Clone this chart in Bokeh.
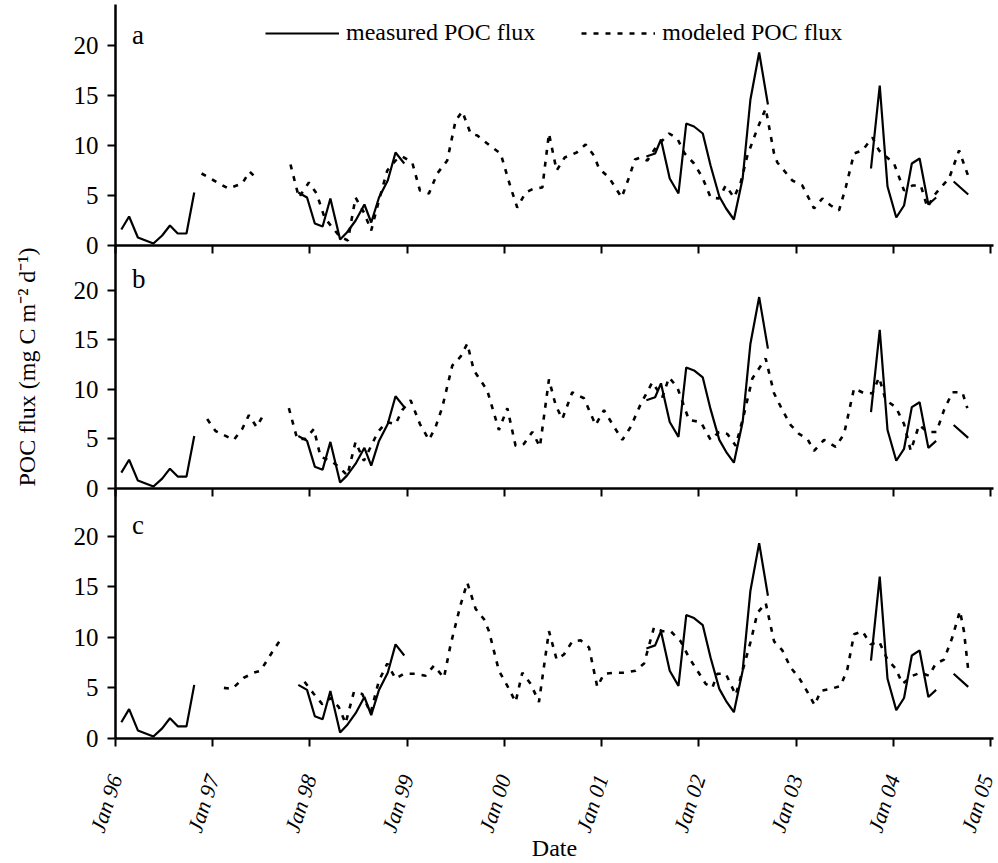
from bokeh.plotting import figure
from bokeh.layouts import column
from bokeh.models import (FixedTicker, Legend, LegendItem, Label, LinearAxis,
                          Range1d)
from bokeh.embed import file_html
from bokeh.resources import INLINE

nan = float("nan")

# ---- axis ticks -------------------------------------------------------------
tick_years = [1996, 1997, 1998, 1999, 2000, 2001, 2002, 2003, 2004, 2005]
tick_labels = ["Jan 96", "Jan 97", "Jan 98", "Jan 99", "Jan 00",
               "Jan 01", "Jan 02", "Jan 03", "Jan 04", "Jan 05"]
flux_ticks = [0, 5, 10, 15, 20]

# ---- measured POC flux (same trap record in every panel, gaps = nan) --------
measured_date = [
    1996.06, 1996.14, 1996.23, 1996.31, 1996.39, 1996.48, 1996.56, 1996.64,
    1996.73, 1996.81, nan,
    1997.88, 1997.97, 1998.05, 1998.13, 1998.21, 1998.31, 1998.38, 1998.47,
    1998.56, 1998.63, 1998.71, 1998.80, 1998.88, 1998.97, nan,
    2001.46, 2001.55, 2001.61, 2001.70, 2001.79, 2001.87, 2001.95, 2002.04,
    2002.12, 2002.21, 2002.28, 2002.36, 2002.45, 2002.53, 2002.62, 2002.71, nan,
    2003.77, 2003.86, 2003.94, 2004.03, 2004.11, 2004.19, 2004.27, 2004.36,
    2004.44, nan,
    2004.62, 2004.77,
]
measured_flux = [
    1.6, 2.9, 0.8, 0.5, 0.2, 1.0, 2.0, 1.2,
    1.2, 5.3, nan,
    5.3, 4.8, 2.2, 1.9, 4.7, 0.6, 1.3, 2.5,
    4.1, 2.3, 4.8, 6.5, 9.3, 8.2, nan,
    8.9, 9.2, 10.6, 6.7, 5.2, 12.2, 11.9, 11.2,
    8.0, 4.9, 3.7, 2.6, 6.7, 14.6, 19.3, 14.1, nan,
    7.7, 16.0, 5.9, 2.8, 4.0, 8.2, 8.7, 4.1,
    4.8, nan,
    6.4, 5.1,
]

# ---- modeled POC flux, run a ------------------------------------------------
modeled_date_a = [
    1996.885, 1997.012, 1997.159, 1997.303, 1997.379, 1997.451, nan,
    1997.800, 1997.886, 1997.989, 1998.068, 1998.150, 1998.229, 1998.308,
    1998.390, 1998.469, 1998.555, 1998.630, 1998.709, 1998.795, 1998.881,
    1998.949, 1999.052, 1999.131, 1999.224, 1999.309, 1999.412, 1999.498,
    1999.567, 1999.652, 1999.721, 1999.875, 1999.961, 2000.064, 2000.132,
    2000.218, 2000.304, 2000.390, 2000.458, 2000.537, 2000.620, 2000.743,
    2000.835, 2000.920, 2000.973, 2001.075, 2001.206, 2001.281, 2001.343,
    2001.401, 2001.470, 2001.556, 2001.693, 2001.778, 2001.854, 2001.950,
    2002.036, 2002.121, 2002.207, 2002.276, 2002.361, 2002.430, 2002.499,
    2002.602, 2002.687, 2002.773, 2002.807, 2002.961, 2003.064, 2003.184,
    2003.270, 2003.356, 2003.441, 2003.510, 2003.596, 2003.682, 2003.785,
    2003.853, 2004.007, 2004.110, 2004.196, 2004.282, 2004.350, 2004.419,
    2004.488, 2004.573, 2004.676, 2004.779,
]
modeled_flux_a = [
    7.2, 6.5, 5.7, 6.2, 7.4, 6.7, nan,
    8.1, 4.8, 6.3, 5.2, 2.8, 1.8, 0.9,
    0.5, 4.8, 3.3, 1.5, 4.5, 7.5, 8.5,
    8.9, 8.3, 5.5, 5.2, 7.2, 8.5, 12.5,
    13.4, 11.2, 11.0, 9.8, 9.2, 5.8, 3.8,
    5.3, 5.7, 5.8, 11.2, 7.5, 8.8, 9.3,
    10.1, 9.0, 7.7, 6.8, 4.8, 6.8, 8.6,
    8.8, 8.5, 9.8, 11.2, 10.7, 9.2, 8.2,
    6.8, 4.8, 4.7, 6.0, 4.8, 6.3, 9.0,
    11.7, 13.7, 9.2, 8.3, 6.5, 6.0, 3.7,
    4.7, 4.0, 3.5, 5.8, 9.2, 9.5, 10.8,
    9.5, 8.2, 5.5, 6.0, 6.0, 3.8, 5.0,
    5.8, 6.7, 9.5, 6.7,
]

# ---- modeled POC flux, run b ------------------------------------------------
modeled_date_b = [
    1996.943, 1997.029, 1997.217, 1997.303, 1997.372, 1997.451, 1997.526, nan,
    1997.783, 1997.869, 1997.955, 1998.040, 1998.109, 1998.212, 1998.308,
    1998.384, 1998.469, 1998.555, 1998.699, 1998.788, 1998.881, 1998.949,
    1999.035, 1999.131, 1999.224, 1999.292, 1999.361, 1999.464, 1999.549,
    1999.618, 1999.686, 1999.823, 1999.943, 2000.030, 2000.115, 2000.201,
    2000.287, 2000.365, 2000.458, 2000.527, 2000.595, 2000.698, 2000.818,
    2000.938, 2001.024, 2001.110, 2001.213, 2001.298, 2001.401, 2001.521,
    2001.624, 2001.693, 2001.778, 2001.898, 2002.019, 2002.121, 2002.207,
    2002.293, 2002.379, 2002.464, 2002.550, 2002.687, 2002.773, 2002.859,
    2002.944, 2003.030, 2003.116, 2003.184, 2003.287, 2003.407, 2003.493,
    2003.596, 2003.699, 2003.785, 2003.853, 2003.922, 2004.025, 2004.110,
    2004.179, 2004.265, 2004.350, 2004.443, 2004.521, 2004.607, 2004.710,
    2004.761,
]
modeled_flux_b = [
    7.0, 5.8, 4.9, 6.0, 7.4, 6.2, 7.5, nan,
    8.1, 5.0, 5.0, 6.0, 3.2, 2.8, 2.1,
    1.3, 4.7, 2.8, 5.7, 6.7, 6.5, 7.9,
    8.9, 6.5, 4.9, 6.2, 8.2, 12.4, 13.3,
    14.6, 11.9, 9.9, 5.9, 8.1, 4.3, 4.5,
    5.7, 4.2, 11.0, 8.4, 7.0, 9.7, 9.1,
    6.4, 7.9, 6.5, 4.9, 6.2, 8.5, 10.7,
    9.2, 11.2, 10.2, 6.9, 6.7, 4.9, 5.7,
    5.5, 4.3, 7.5, 11.1, 13.1, 9.6, 7.9,
    6.4, 5.5, 5.0, 3.8, 4.9, 4.2, 5.5,
    10.1, 9.6, 9.6, 11.2, 8.9, 8.2, 6.5,
    3.8, 6.4, 5.7, 5.7, 7.9, 9.7, 9.7,
    8.1,
]

# ---- modeled POC flux, run c ------------------------------------------------
modeled_date_c = [
    1997.115, 1997.200, 1997.320, 1997.423, 1997.492, 1997.629, 1997.715, nan,
    1997.944, 1998.040, 1998.126, 1998.212, 1998.297, 1998.366, 1998.452,
    1998.538, 1998.623, 1998.709, 1998.795, 1998.881, 1998.966, 1999.086,
    1999.189, 1999.275, 1999.378, 1999.447, 1999.549, 1999.618, 1999.704,
    1999.789, 1999.841, 1999.943, 2000.030, 2000.115, 2000.184, 2000.270,
    2000.355, 2000.458, 2000.537, 2000.612, 2000.698, 2000.784, 2000.870,
    2000.955, 2001.024, 2001.127, 2001.230, 2001.350, 2001.436, 2001.539,
    2001.624, 2001.710, 2001.813, 2001.898, 2001.984, 2002.070, 2002.138,
    2002.190, 2002.276, 2002.379, 2002.464, 2002.533, 2002.602, 2002.687,
    2002.773, 2002.859, 2002.944, 2003.030, 2003.116, 2003.191, 2003.253,
    2003.356, 2003.459, 2003.528, 2003.596, 2003.682, 2003.767, 2003.853,
    2003.939, 2004.025, 2004.093, 2004.196, 2004.282, 2004.367, 2004.436,
    2004.521, 2004.607, 2004.685, 2004.726, 2004.771,
]
modeled_flux_c = [
    5.0, 4.9, 6.0, 6.5, 6.7, 8.8, 10.0, nan,
    5.6, 4.4, 3.4, 4.0, 3.1, 1.5, 4.6,
    4.4, 2.5, 5.7, 7.4, 5.9, 6.4, 6.4,
    6.2, 7.2, 6.0, 9.3, 13.2, 15.4, 12.8,
    11.8, 10.6, 6.7, 5.2, 3.6, 6.5, 5.4,
    3.6, 10.6, 7.8, 8.3, 9.6, 9.7, 9.0,
    5.1, 6.4, 6.5, 6.5, 6.7, 7.4, 11.0,
    10.6, 10.6, 9.6, 8.0, 6.7, 5.4, 5.0,
    6.4, 6.4, 4.3, 7.2, 9.6, 12.4, 13.4,
    9.6, 8.7, 7.0, 6.0, 4.6, 3.3, 4.7,
    4.9, 5.2, 6.9, 10.3, 10.6, 9.3, 9.6,
    7.8, 6.9, 5.4, 6.2, 6.5, 6.2, 7.4,
    7.8, 10.0, 12.6, 10.6, 6.7,
]

SERIF = "Liberation Serif"
INK = "black"
OVERLAP = 18  # each canvas reaches this far under the next one so "0" is not cut


def make_panel(height, top, y_end, letter, mod_date, mod_flux,
               with_dates, with_top_ticks):
    bottom = 123 if with_dates else OVERLAP
    p = figure(width=998, height=height + (0 if with_dates else OVERLAP),
               x_range=Range1d(1996.0, 2005.03), y_range=Range1d(0, y_end),
               output_backend="svg", toolbar_location=None,
               min_border_left=115, min_border_right=5,
               min_border_top=top, min_border_bottom=bottom)
    p.grid.visible = False
    p.outline_line_color = None
    p.background_fill_alpha = 0
    p.border_fill_alpha = 0

    # flux axis
    ya = p.yaxis[0]
    ya.ticker = FixedTicker(ticks=flux_ticks)
    ya.axis_line_width = 2.5
    ya.axis_line_color = INK
    ya.major_tick_line_width = 2
    ya.major_tick_out = 8
    ya.major_tick_in = 0
    ya.minor_tick_line_color = None
    ya.major_label_text_font = SERIF
    ya.major_label_text_font_size = "25px"
    ya.major_label_text_color = INK
    ya.major_label_standoff = 9

    # date axis
    xa = p.xaxis[0]
    xa.ticker = FixedTicker(ticks=tick_years)
    xa.major_label_overrides = dict(zip(tick_years, tick_labels))
    xa.axis_line_width = 2.5
    xa.axis_line_color = INK
    xa.minor_tick_line_color = None
    xa.major_tick_line_width = 2
    if with_dates:
        xa.major_tick_out = 8
        xa.major_tick_in = 0
        xa.major_label_orientation = 1.25
        xa.major_label_text_font = SERIF
        xa.major_label_text_font_style = "italic"
        xa.major_label_text_font_size = "22px"
        xa.major_label_text_color = INK
        xa.major_label_standoff = 29
        xa.axis_label = "Date"
        xa.axis_label_text_font = SERIF
        xa.axis_label_text_font_style = "normal"
        xa.axis_label_text_font_size = "24px"
        xa.axis_label_text_color = INK
        xa.axis_label_standoff = -8
    else:
        xa.major_tick_out = 0
        xa.major_tick_in = 0
        xa.major_label_text_color = None
        xa.major_label_text_font_size = "1px"
        xa.major_label_standoff = 0

    if with_top_ticks:
        ta = LinearAxis(ticker=FixedTicker(ticks=tick_years),
                        axis_line_color=None, major_tick_in=8,
                        major_tick_out=0, major_tick_line_width=2,
                        minor_tick_line_color=None,
                        major_label_text_color=None,
                        major_label_text_font_size="1px",
                        major_label_standoff=0)
        p.add_layout(ta, "above")

    meas = p.line(measured_date, measured_flux, line_color=INK,
                  line_width=2.2)
    model = p.line(mod_date, mod_flux, line_color=INK, line_width=2.6,
                   line_dash="5 7")

    p.add_layout(Label(x=1996.17, y=21.1, text=letter,
                       text_font=SERIF, text_font_size="27px",
                       text_baseline="alphabetic", text_color=INK))
    return p, meas, model


pa, meas_a, model_a = make_panel(245, 4, 24.1, "a",
                                 modeled_date_a, modeled_flux_a, False, False)
pb, _, _ = make_panel(243, 0, 24.5, "b",
                      modeled_date_b, modeled_flux_b, False, True)
pc, _, _ = make_panel(375, 0, 24.7, "c",
                      modeled_date_c, modeled_flux_c, True, True)
pb.margin = (-OVERLAP, 0, 0, 0)
pc.margin = (-OVERLAP, 0, 0, 0)

pb.yaxis[0].axis_label = "POC flux (mg C m\u207b\u00b2 d\u207b\u00b9)"
pb.yaxis[0].axis_label_text_font = SERIF
pb.yaxis[0].axis_label_text_font_style = "normal"
pb.yaxis[0].axis_label_text_font_size = "24px"
pb.yaxis[0].axis_label_text_color = INK
pb.yaxis[0].axis_label_standoff = 31

legend = Legend(items=[LegendItem(label="measured POC flux", renderers=[meas_a]),
                       LegendItem(label="modeled POC flux", renderers=[model_a])],
                orientation="horizontal", location=(150, 199),
                glyph_width=74, glyph_height=20, label_standoff=7,
                spacing=46, padding=0, margin=0,
                border_line_color=None, background_fill_alpha=0,
                label_text_font=SERIF, label_text_font_size="24px",
                label_text_color=INK)
pa.add_layout(legend)

layout = column(pa, pb, pc, spacing=0)

open("out.html", "w").write(file_html(layout, INLINE))
